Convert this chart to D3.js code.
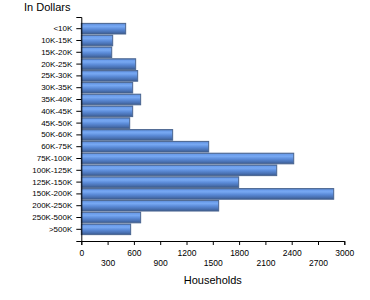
<!DOCTYPE html>
<html><head><meta charset="utf-8">
<script src="https://cdn.jsdelivr.net/npm/d3@7"></script>
<style>
body{margin:0;background:#fff;}
svg{display:block;font-family:"Liberation Sans",Arial,sans-serif;}
</style></head>
<body>
<svg id="c" width="370" height="300"></svg>
<script>
const categories = ["<10K","10K-15K","15K-20K","20K-25K","25K-30K","30K-35K","35K-40K","40K-45K","45K-50K","50K-60K","60K-75K","75K-100K","100K-125K","125K-150K","150K-200K","200K-250K","250K-500K",">500K"];
const households = [506,358,347,620,643,586,677,586,552,1042,1453,2423,2229,1795,2879,1567,677,563];
const xTicks = [0,300,600,900,1200,1500,1800,2100,2400,2700,3000];
const yTitle = "In Dollars";
const xTitle = "Households";

const svg = d3.select("#c");
const x = d3.scaleLinear().domain([0,3000]).range([81.3,344.3]);
const y = d3.scaleBand().domain(categories).range([17,241]).paddingInner(0.1).paddingOuter(0.54);

const defs = svg.append("defs");
const g = defs.append("linearGradient").attr("id","bg").attr("x1",0).attr("y1",0).attr("x2",0).attr("y2",1);
[[0,"#4d6fa6"],[0.12,"#6a9ceb"],[0.3,"#77a8f2"],[0.55,"#5b8bd8"],[0.8,"#4a72b4"],[1,"#3a5a8e"]].forEach(s=>g.append("stop").attr("offset",s[0]).attr("stop-color",s[1]));

svg.append("g").selectAll("rect").data(categories).join("rect")
  .attr("x",x(0)).attr("y",d=>y(d))
  .attr("width",(d,i)=>x(households[i])-x(0))
  .attr("height",y.bandwidth())
  .attr("fill","url(#bg)").attr("stroke","#4a6590").attr("stroke-width",1);

const ya = svg.append("g").attr("transform",`translate(${x(0)},0)`)
  .call(d3.axisLeft(y).tickSize(5).tickPadding(4));
ya.selectAll("text").attr("font-size","8px").attr("fill","#000").attr("font-family","Liberation Sans, Arial, sans-serif");
ya.selectAll("line,path").attr("stroke","#000");

const xa = svg.append("g").attr("transform",`translate(0,241)`)
  .call(d3.axisBottom(x).tickValues(xTicks).tickSize(4).tickPadding(5).tickFormat(d3.format("d")));
xa.selectAll("text").attr("font-size","8.5px").attr("fill","#000").attr("font-family","Liberation Sans, Arial, sans-serif")
  .attr("dy",(d,i)=> i%2 ? "1.9em" : "0.71em");
xa.selectAll("line,path").attr("stroke","#000");

svg.append("text").attr("x",24).attr("y",10.5).attr("font-size","11px").attr("fill","#000").text(yTitle);
svg.append("text").attr("x",(x(0)+x(3000))/2).attr("y",284).attr("text-anchor","middle").attr("font-size","11px").attr("fill","#000").text(xTitle);
</script>
</body></html>
